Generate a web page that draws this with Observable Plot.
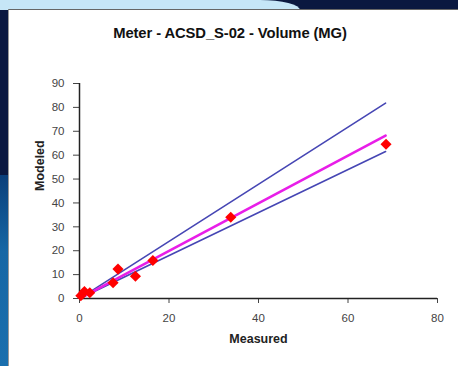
<!DOCTYPE html>
<html>
<head>
<meta charset="utf-8">
<script src="https://cdn.jsdelivr.net/npm/d3@7"></script>
<script src="https://cdn.jsdelivr.net/npm/@observablehq/plot@0.6"></script>
<style>
  html, body { margin: 0; padding: 0; }
  body { width: 458px; height: 366px; overflow: hidden; position: relative; background: #0a1840; font-family: "Liberation Sans", Arial, sans-serif; }
  #topstrip { position: absolute; left: 0; top: 0; width: 300px; height: 10px; background: #c6e6f7; border-top-right-radius: 40px 10px; }
  #leftlow { position: absolute; left: 0; top: 175px; width: 10px; height: 191px; background: linear-gradient(#0a3f7a, #1767a5 40%, #1a6fae); }
  #panel { position: absolute; left: 8px; top: 9px; width: 450px; height: 357px; background: #fff; border-top: 1px solid #666; border-left: 1px solid #999; box-sizing: border-box; }
  #title { position: absolute; left: 8px; top: 25px; width: 444px; text-align: center; font-weight: bold; font-size: 14.8px; color: #111; letter-spacing: -0.1px; }
  #chart { position: absolute; left: 8px; top: 60px; }
</style>
</head>
<body>
<div id="topstrip"></div>
<div id="leftlow"></div>
<div id="panel"></div>
<div id="title">Meter - ACSD_S-02 - Volume (MG)</div>
<div id="chart"></div>
<script>
const measured = [0.3, 1.1, 2.3, 7.5, 8.6, 12.5, 16.4, 33.8, 68.5];
const modeled  = [1.2, 2.9, 2.4, 6.6, 12.3, 9.3, 15.9, 34.0, 64.6];
const lineX  = [0.5, 68.4];
const upperY = [0.6, 81.8];
const fitY   = [0.5, 68.2];
const lowerY = [0.45, 61.5];
const xTicks = [0, 20, 40, 60, 80];
const yTicks = [0, 10, 20, 30, 40, 50, 60, 70, 80, 90];

const pts = measured.map((m, i) => ({x: m, y: modeled[i]}));
const mk = ys => lineX.map((x, i) => ({x, y: ys[i]}));

const chart = Plot.plot({
  width: 440, height: 300,
  marginLeft: 71, marginRight: 11, marginTop: 23, marginBottom: 62,
  style: {fontFamily: "'Liberation Sans', Arial, sans-serif", fontSize: "11.5px", background: "transparent", overflow: "visible"},
  x: {domain: [0, 80]},
  y: {domain: [0, 90]},
  marks: [
    Plot.axisX({ticks: xTicks, tickSize: 5, tickPadding: 10, label: null, color: "#444", tickFormat: d => d}),
    Plot.axisY({ticks: yTicks, tickSize: 6, tickPadding: 9, label: null, color: "#444", tickFormat: d => d}),
    Plot.ruleX([0], {y1: 0, y2: 90, stroke: "#222", strokeWidth: 1.5}),
    Plot.ruleY([0], {x1: 0, x2: 80, stroke: "#222", strokeWidth: 1.5}),
    Plot.line(mk(upperY), {x: "x", y: "y", stroke: "#4646b4", strokeWidth: 1.6}),
    Plot.line(mk(lowerY), {x: "x", y: "y", stroke: "#4646b4", strokeWidth: 1.6}),
    Plot.line(mk(fitY), {x: "x", y: "y", stroke: "#e81ee8", strokeWidth: 2.6}),
    Plot.dot(pts, {x: "x", y: "y", symbol: "diamond2", r: 5, fill: "#ff0000", stroke: "none"}),
    Plot.text(["Measured"], {frameAnchor: "bottom", dy: 40, lineAnchor: "middle", fontWeight: "bold", fontSize: 12.5, fill: "#222"}),
    Plot.text(["Modeled"], {frameAnchor: "left", dx: -40, rotate: -90, lineAnchor: "middle", fontWeight: "bold", fontSize: 12.5, fill: "#222"})
  ]
});
document.getElementById("chart").appendChild(chart);
</script>
</body>
</html>
